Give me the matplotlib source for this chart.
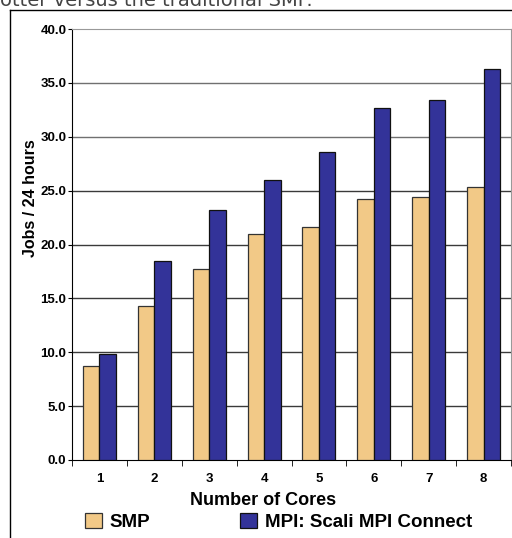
import numpy as np
import matplotlib
matplotlib.use("Agg")
import matplotlib.pyplot as plt
from matplotlib.lines import Line2D

plt.rcParams['font.family'] = ['Liberation Sans', 'DejaVu Sans']

cores = ['1', '2', '3', '4', '5', '6', '7', '8']
smp = [8.7, 14.3, 17.7, 21.0, 21.6, 24.2, 24.4, 25.3]
mpi = [9.8, 18.5, 23.2, 26.0, 28.6, 32.7, 33.4, 36.3]
y_ticks = [0, 5, 10, 15, 20, 25, 30, 35, 40]

smp_color = '#F2C987'
mpi_color = '#333399'

fig = plt.figure(figsize=(5.12, 5.38), dpi=100)
ax = fig.add_axes([72 / 512, 1 - 460 / 538, 439 / 512, 431 / 538])

x = np.arange(len(cores))
w = 0.3
b1 = ax.bar(x - w / 2, smp, w, color=smp_color, edgecolor='#333333', linewidth=0.9, zorder=3, label='SMP')
b2 = ax.bar(x + w / 2, mpi, w, color=mpi_color, edgecolor='#111111', linewidth=0.9, zorder=3,
            label='MPI: Scali MPI Connect')

ax.set_xlim(-0.5, len(cores) - 0.5)
ax.set_ylim(0, 40)
ax.set_yticks(y_ticks)
ax.set_yticklabels(['%.1f' % v for v in y_ticks], fontweight='bold', fontsize=9.5)
ax.set_xticks(x)
ax.set_xticklabels(cores, fontweight='bold', fontsize=9.5)
ax.tick_params(axis='x', length=0, pad=9)
ax.set_xticks(np.arange(-0.5, len(cores)), minor=True)
ax.tick_params(axis='x', which='minor', length=4, direction='out')
ax.tick_params(axis='y', length=3, direction='out', pad=1)

for v in y_ticks[1:-1]:
    ax.axhline(v, color='#3a3a3a' if v < 30 else '#707070', linewidth=1, zorder=1)

for s in ['top', 'right']:
    ax.spines[s].set_color('#999999')
for s in ['left', 'bottom']:
    ax.spines[s].set_color('black')

ax.set_ylabel('Jobs / 24 hours', fontweight='bold', fontsize=11.5, va='center')
ax.yaxis.set_label_coords(-0.095, 0.608)
ax.set_xlabel('Number of Cores', fontweight='bold', fontsize=13, va='center')
ax.xaxis.set_label_coords(0.435, -0.093)

fig.legend(handles=[b1, b2], loc='lower left', bbox_to_anchor=(68 / 512, -0.019), ncol=2,
           frameon=False, prop={'weight': 'bold', 'size': 13.5}, handlelength=0.9,
           handleheight=0.85, columnspacing=4.8, handletextpad=0.43, borderpad=0.4)

# outer frame of the original figure box
fig.add_artist(Line2D([10 / 512, 10 / 512], [0, 1 - 10 / 538], color='black', linewidth=1))
fig.add_artist(Line2D([10 / 512, 1], [1 - 10 / 538, 1 - 10 / 538], color='black', linewidth=1))

fig.text(0.0, 1 - 1 / 538, 'otter versus the traditional SMP.', fontsize=14, color='#444444',
         family=['DejaVu Sans'], va='center', ha='left')

fig.savefig('out.png', dpi=100)
